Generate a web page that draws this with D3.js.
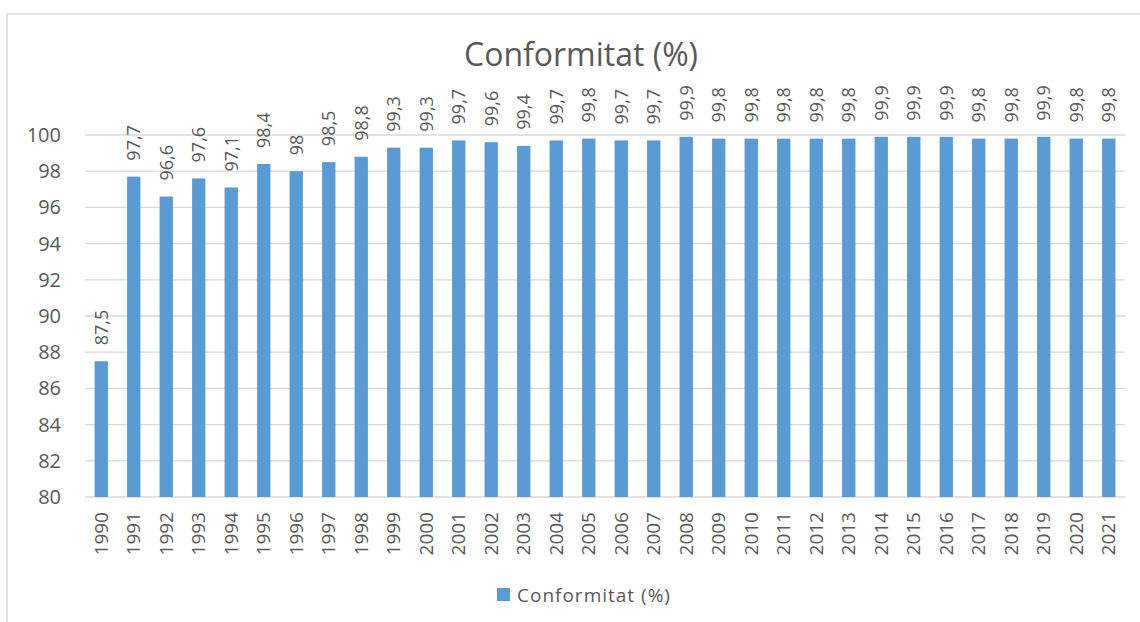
<!DOCTYPE html>
<html>
<head>
<meta charset="utf-8">
<script src="https://cdn.jsdelivr.net/npm/d3@7"></script>
<style>
  html, body { margin: 0; padding: 0; background: #ffffff; }
  svg { display: block; }
  text { font-family: "Open Sans", "Noto Sans", sans-serif; fill: #595959; }
</style>
</head>
<body>
<svg id="chart" width="1140" height="622"></svg>
<script>
const years = ["1990","1991","1992","1993","1994","1995","1996","1997","1998","1999","2000","2001","2002","2003","2004","2005","2006","2007","2008","2009","2010","2011","2012","2013","2014","2015","2016","2017","2018","2019","2020","2021"];
const conformitat = [87.5, 97.7, 96.6, 97.6, 97.1, 98.4, 98, 98.5, 98.8, 99.3, 99.3, 99.7, 99.6, 99.4, 99.7, 99.8, 99.7, 99.7, 99.9, 99.8, 99.8, 99.8, 99.8, 99.8, 99.9, 99.9, 99.9, 99.8, 99.8, 99.9, 99.8, 99.8];
const yTicks = [80, 82, 84, 86, 88, 90, 92, 94, 96, 98, 100];
const seriesName = "Conformitat (%)";
const titleText = "Conformitat (%)";

const svg = d3.select("#chart");
const barColor = "#5b9bd5";
const gridColor = "#d9d9d9";

// chart border
svg.append("rect")
  .attr("x", 7).attr("y", 14)
  .attr("width", 1160).attr("height", 700)
  .attr("fill", "none").attr("stroke", "#d9d9d9").attr("stroke-width", 1.5);

const plotLeft = 85, plotRight = 1125, plotTop = 135, plotBottom = 497;

const x = d3.scaleBand().domain(years).range([plotLeft, plotRight])
  .paddingInner(0.59).paddingOuter(0.295);
const y = d3.scaleLinear().domain([80, 100]).range([plotBottom, plotTop]);

// gridlines
svg.append("g").selectAll("line").data(yTicks).join("line")
  .attr("x1", plotLeft).attr("x2", plotRight)
  .attr("y1", d => y(d)).attr("y2", d => y(d))
  .attr("stroke", gridColor).attr("stroke-width", 1.3);

// y axis labels
const yAxis = d3.axisLeft(y).tickValues(yTicks).tickSize(0).tickPadding(0).tickFormat(d3.format("d"));
const gy = svg.append("g").attr("transform", `translate(61,0)`).call(yAxis);
gy.select(".domain").remove();
gy.selectAll("text")
  .attr("font-size", 20).attr("fill", "#595959")
  .style("font-family", '"Open Sans", sans-serif');

// bars
svg.append("g").selectAll("rect").data(years).join("rect")
  .attr("x", d => x(d))
  .attr("width", x.bandwidth())
  .attr("y", (d, i) => y(conformitat[i]))
  .attr("height", (d, i) => y(80) - y(conformitat[i]))
  .attr("fill", barColor);

// value labels
svg.append("g").selectAll("text").data(years).join("text")
  .attr("transform", (d, i) => `translate(${x(d) + x.bandwidth() / 2},${y(conformitat[i]) - 16}) rotate(-90)`)
  .attr("dy", "0.35em")
  .attr("text-anchor", "start")
  .attr("font-size", 18)
  .text((d, i) => String(conformitat[i]).replace(".", ","));

// x axis labels
const xAxis = d3.axisBottom(x).tickSize(0).tickPadding(0);
const gx = svg.append("g").attr("transform", `translate(0,${plotBottom})`).call(xAxis);
gx.select(".domain").remove();
gx.selectAll("text")
  .attr("font-size", 19).attr("fill", "#595959")
  .style("font-family", '"Open Sans", sans-serif')
  .attr("text-anchor", "end")
  .attr("y", 0).attr("dy", "0.35em")
  .attr("transform", "translate(0,15) rotate(-90)");

// title
svg.append("text")
  .attr("x", 581).attr("y", 66)
  .attr("text-anchor", "middle")
  .attr("font-size", 32)
  .text(titleText);

// legend
svg.append("rect").attr("x", 497).attr("y", 588).attr("width", 13).attr("height", 13).attr("fill", barColor);
svg.append("text").attr("x", 517).attr("y", 601.5)
  .attr("font-size", 19).attr("letter-spacing", 1)
  .text(seriesName);
</script>
</body>
</html>
